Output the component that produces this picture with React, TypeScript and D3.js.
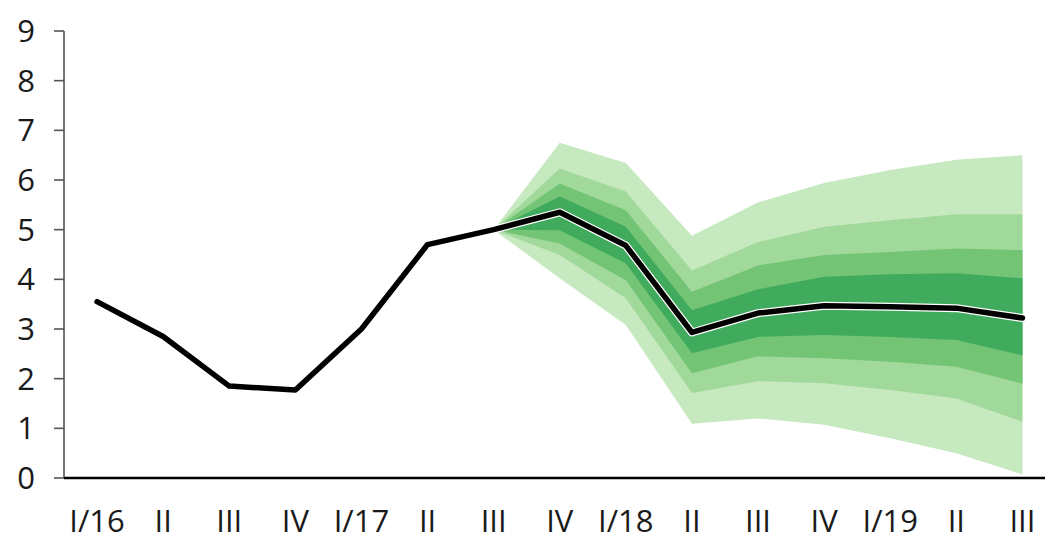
import React from "react";
import * as d3 from "d3";

const categories = ["I/16", "II", "III", "IV", "I/17", "II", "III", "IV", "I/18", "II", "III", "IV", "I/19", "II", "III"];
const actual = [3.55, 2.85, 1.85, 1.77, 3.0, 4.7, 5.0, 5.35, 4.68, 2.93, 3.32, 3.47, 3.45, 3.42, 3.22];
const fanStart = 6;
const upper4 = [5.0, 6.75, 6.34, 4.88, 5.55, 5.94, 6.2, 6.41, 6.5];
const upper3 = [5.0, 6.23, 5.77, 4.18, 4.75, 5.06, 5.19, 5.31, 5.31];
const upper2 = [5.0, 5.93, 5.39, 3.75, 4.28, 4.49, 4.55, 4.62, 4.59];
const upper1 = [5.0, 5.67, 5.06, 3.38, 3.8, 4.05, 4.1, 4.12, 4.02];
const lower1 = [5.0, 4.99, 4.32, 2.51, 2.84, 2.88, 2.84, 2.78, 2.47];
const lower2 = [5.0, 4.72, 3.98, 2.11, 2.45, 2.41, 2.34, 2.24, 1.9];
const lower3 = [5.0, 4.49, 3.62, 1.71, 1.95, 1.91, 1.77, 1.6, 1.13];
const lower4 = [5.0, 4.02, 3.08, 1.09, 1.2, 1.07, 0.8, 0.5, 0.07];
const yTicks = [0, 1, 2, 3, 4, 5, 6, 7, 8, 9];

const bands = [
  { lo: lower4, hi: upper4, color: "#c7e9c0" },
  { lo: lower3, hi: upper3, color: "#a1d99b" },
  { lo: lower2, hi: upper2, color: "#74c476" },
  { lo: lower1, hi: upper1, color: "#41ab5d" },
];

const W = 1045;
const H = 536;
const left = 64;
const top = 31;
const bottom = 478;
const step = 66.1;

export default function App() {
  const x = d3
    .scalePoint<number>()
    .domain(categories.map((_, i) => i))
    .range([left + step / 2, left + step * (categories.length - 0.5)]);
  const y = d3.scaleLinear().domain([0, 9]).range([bottom, top]);

  const area = d3
    .area<{ i: number; lo: number; hi: number }>()
    .x((d) => x(d.i) as number)
    .y0((d) => y(d.lo))
    .y1((d) => y(d.hi));

  const line = d3
    .line<number>()
    .x((_, i) => x(i) as number)
    .y((d) => y(d));

  const fanLine = d3
    .line<number>()
    .x((_, i) => x(i + fanStart) as number)
    .y((d) => y(d));

  const font = "'Open Sans', 'Noto Sans', sans-serif";

  return (
    <svg
      width={W}
      height={H}
      style={{ position: "fixed", left: 0, top: 0, background: "#fff" }}
    >
      {bands.map((b, k) => (
        <path
          key={k}
          d={
            area(
              b.lo.map((v, j) => ({ i: j + fanStart, lo: v, hi: b.hi[j] }))
            ) as string
          }
          fill={b.color}
        />
      ))}
      {/* y axis */}
      <line x1={left} x2={left} y1={top} y2={bottom} stroke="#555" strokeWidth={1.6} />
      {yTicks.map((t) => (
        <g key={t}>
          <line x1={left - 10} x2={left} y1={y(t)} y2={y(t)} stroke="#555" strokeWidth={1.6} />
          <text
            x={35}
            y={y(t)}
            dy="0.36em"
            textAnchor="end"
            fontFamily={font}
            fontSize={31}
            fill="#1a1a1a"
          >
            {t}
          </text>
        </g>
      ))}
      {/* x axis */}
      <line x1={left} x2={W} y1={bottom} y2={bottom} stroke="#000" strokeWidth={2.6} />
      {categories.map((c, i) => (
        <text
          key={i}
          x={x(i) as number}
          y={532}
          textAnchor="middle"
          fontFamily={font}
          fontSize={31}
          fill="#1a1a1a"
        >
          {c}
        </text>
      ))}
      {/* white outline in fan region */}
      <path
        d={fanLine(actual.slice(fanStart)) as string}
        fill="none"
        stroke="#fff"
        strokeWidth={8}
        strokeLinejoin="round"
        strokeLinecap="round"
      />
      <path
        d={line(actual) as string}
        fill="none"
        stroke="#000"
        strokeWidth={5.5}
        strokeLinejoin="round"
        strokeLinecap="round"
      />
    </svg>
  );
}
